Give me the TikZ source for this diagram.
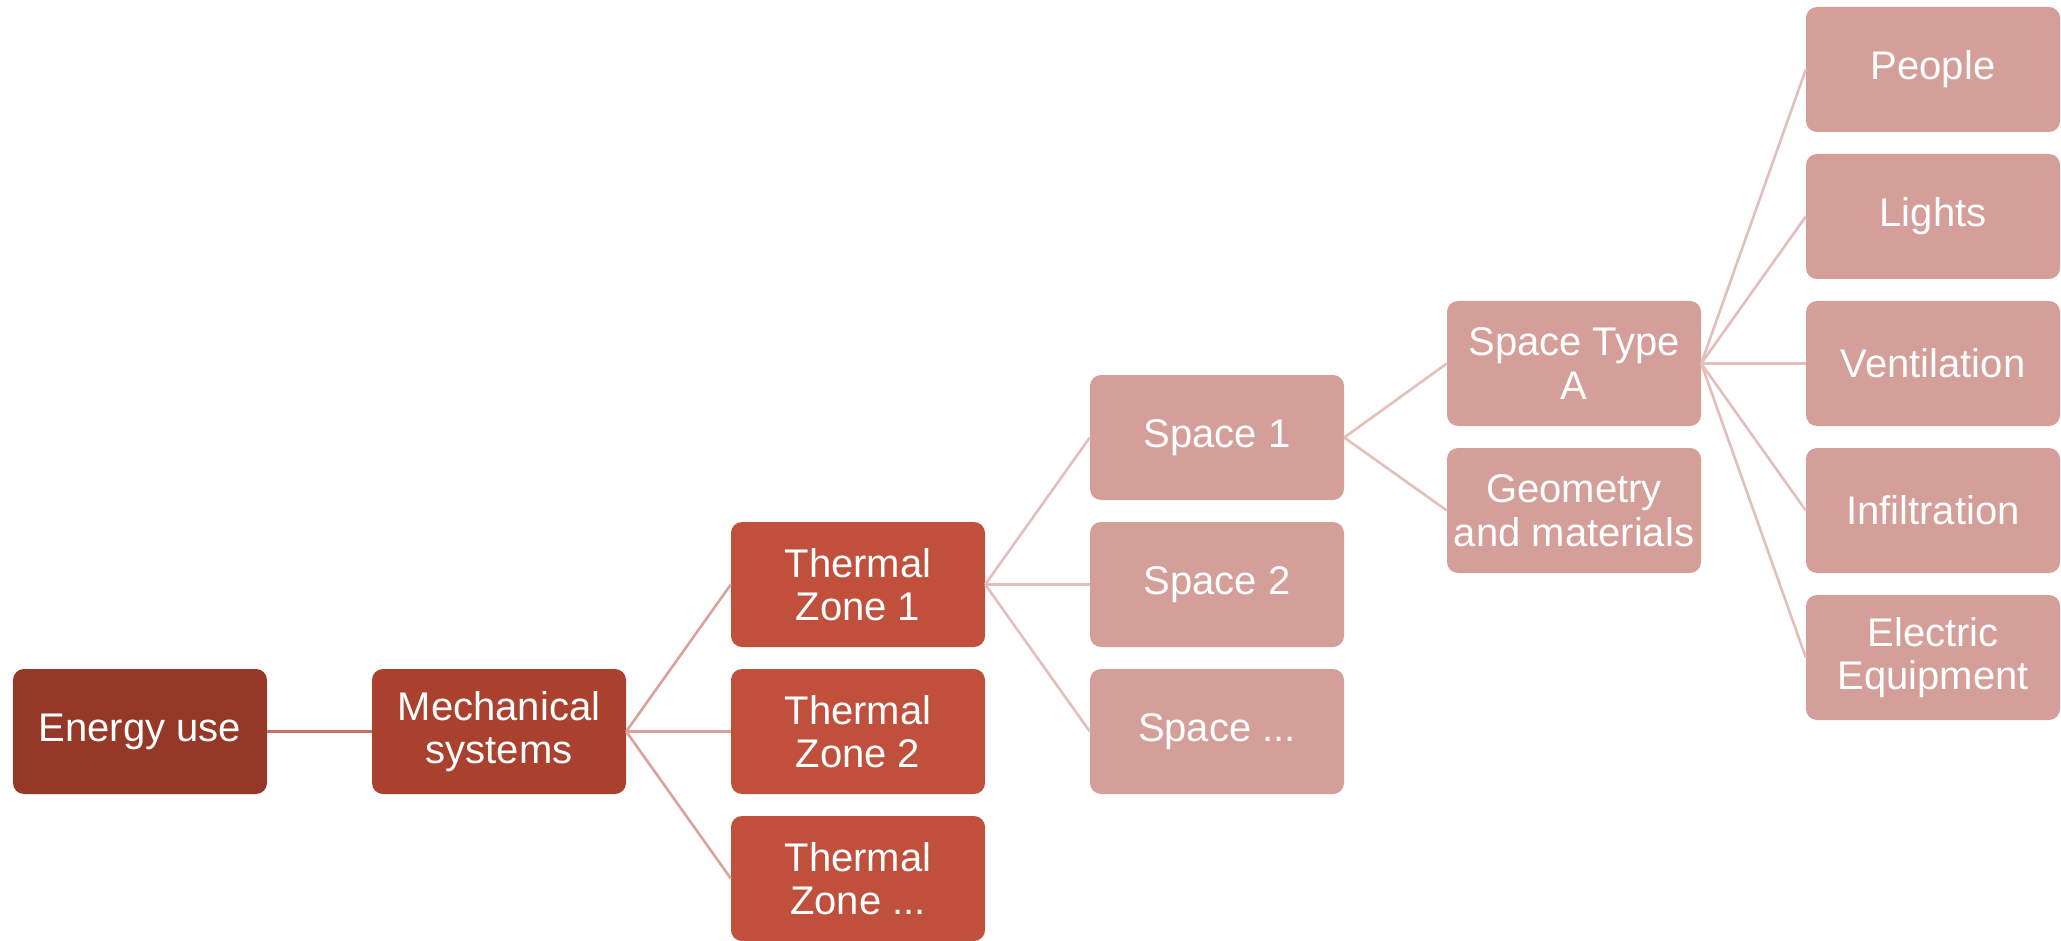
\documentclass[tikz,border=0pt]{standalone}
\usepackage{fontspec}
\setmainfont{Liberation Sans}
\definecolor{cA}{HTML}{953828}
\definecolor{cB}{HTML}{AA412F}
\definecolor{cC}{HTML}{C04F3B}
\definecolor{cD}{HTML}{D49E99}
\definecolor{lA}{HTML}{C4716A}
\definecolor{lB}{HTML}{D8A29D}
\definecolor{lC}{HTML}{E3BFBB}
\begin{document}
\begin{tikzpicture}[x=1pt,y=-1pt,
  box/.style={rounded corners=11pt, minimum width=254pt, minimum height=125pt,
    inner sep=0pt, align=center, text=white, font=\fontsize{40}{43.5}\selectfont},
  lvA/.style={box, fill=cA},
  lvB/.style={box, fill=cB},
  lvC/.style={box, fill=cC},
  lvD/.style={box, fill=cD},
  linkA/.style={draw=lA, line width=3pt},
  linkB/.style={draw=lB, line width=2.6pt},
  linkC/.style={draw=lC, line width=2.6pt}]
\useasboundingbox (0,0) rectangle (2061,941);
\node[lvA] (energy) at (140,731.5) {Energy use};
\node[lvB] (mech) at (499,731.5) {Mechanical\\systems};
\node[lvC] (tz1) at (858,584.5) {Thermal\\Zone 1};
\node[lvC] (tz2) at (858,731.5) {Thermal\\Zone 2};
\node[lvC] (tz3) at (858,878.5) {Thermal\\Zone ...};
\node[lvD] (s1) at (1217,437.5) {Space 1};
\node[lvD] (s2) at (1217,584.5) {Space 2};
\node[lvD] (s3) at (1217,731.5) {Space ...};
\node[lvD] (sta) at (1574,363.5) {Space Type\\A};
\node[lvD] (geo) at (1574,510.5) {Geometry\\and materials};
\node[lvD] (people) at (1933,69.5) {People};
\node[lvD] (lights) at (1933,216.5) {Lights};
\node[lvD] (vent) at (1933,363.5) {Ventilation};
\node[lvD] (infil) at (1933,510.5) {Infiltration};
\node[lvD] (elec) at (1933,657.5) {Electric\\Equipment};
\draw[linkA] (energy.east) -- (mech.west);
\foreach \c in {tz1,tz2,tz3} \draw[linkB] (mech.east) -- (\c.west);
\foreach \c in {s1,s2,s3} \draw[linkC] (tz1.east) -- (\c.west);
\foreach \c in {sta,geo} \draw[linkC] (s1.east) -- (\c.west);
\foreach \c in {people,lights,vent,infil,elec} \draw[linkC] (sta.east) -- (\c.west);
\end{tikzpicture}
\end{document}
